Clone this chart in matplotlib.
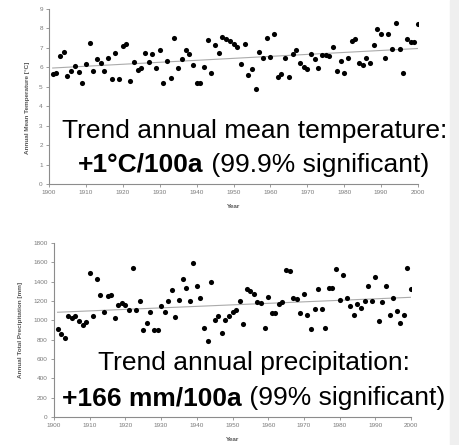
import numpy as np
import matplotlib
matplotlib.use("Agg")
import matplotlib.pyplot as plt
from matplotlib.patches import Rectangle

plt.rcParams['font.family'] = ['Liberation Sans', 'DejaVu Sans']

# annual mean temperature [°C], 1901-2000
temp_years = np.arange(1901, 2001)
temp_values = [
    5.64, 5.69, 6.59, 6.81, 5.56, 5.81, 6.07, 5.78, 5.18, 6.16,
    7.24, 5.83, 6.43, 6.21, 5.81, 6.50, 5.39, 6.72, 5.39, 7.10,
    7.19, 5.30, 6.30, 5.85, 5.97, 6.76, 6.28, 6.71, 5.99, 6.91,
    5.21, 6.35, 5.45, 7.51, 5.95, 6.43, 6.90, 6.67, 6.12, 5.20,
    5.20, 6.04, 7.39, 5.69, 7.14, 6.76, 7.55, 7.44, 7.37, 7.18,
    7.03, 6.17, 7.18, 5.61, 5.90, 4.89, 6.81, 6.46, 7.49, 6.55,
    7.70, 5.52, 5.66, 6.50, 5.49, 6.69, 6.89, 6.21, 6.00, 5.92,
    6.69, 6.41, 5.95, 6.64, 6.64, 6.60, 7.03, 5.83, 6.34, 5.69,
    6.50, 7.36, 7.46, 6.24, 6.12, 6.46, 6.24, 7.15, 7.97, 7.72,
    6.46, 7.72, 6.94, 8.26, 6.93, 5.69, 7.46, 7.29, 7.29, 8.23,
]

# annual total precipitation [mm], 1901-2000
prec_years = np.arange(1901, 2001)
prec_values = [
    910, 862, 821, 1041, 1028, 1041, 993, 948, 983, 1490,
    1045, 1431, 1259, 1083, 1255, 1259, 1028, 1155, 1183, 1155,
    1103, 1545, 1103, 1200, 903, 972, 1086, 903, 896, 1148,
    1083, 1196, 1310, 1034, 1207, 1431, 1338, 1196, 1593, 1355,
    1234, 924, 786, 1396, 1000, 1041, 872, 1007, 1041, 1086,
    1110, 1196, 965, 1327, 1303, 1276, 1190, 1179, 921, 1241,
    1076, 1076, 1165, 1190, 1517, 1510, 1234, 1224, 1076, 1269,
    1052, 914, 1121, 1320, 1121, 924, 1338, 1338, 1534, 1214,
    1465, 1231, 1145, 1052, 1172, 1131, 1200, 1355, 1200, 1448,
    990, 1190, 1355, 1052, 1231, 1096, 972, 1052, 1545, 1327,
]

temp_text = ["Trend annual mean temperature:", "+1°C/100a", " (99.9% significant)"]
prec_text = ["Trend annual precipitation:", "+166 mm/100a", " (99% significant)"]

W, H = 459, 445
fig = plt.figure(figsize=(W / 100, H / 100), dpi=100)
# light grey strip on the right edge
fig.patches.append(Rectangle((450 / W, 0), 9 / W, 1, transform=fig.transFigure,
                             color='#efefef', zorder=0))

axis_grey = '#8c8c8c'
label_grey = '#7a7a7a'


def px(x0, y0, x1, y1):
    # pixel box (left, top, right, bottom) -> figure fraction rect
    return [x0 / W, 1 - y1 / H, (x1 - x0) / W, (y1 - y0) / H]


def setup(ax, years, values, ymax, ystep, ylabel, ylab_x, ylab_y):
    ax.plot(years, values, 'o', color='black', ms=3.7, mew=0, zorder=3)
    k, b = np.polyfit(years, values, 1)
    ax.plot([years[0], years[-1]], [k * years[0] + b, k * years[-1] + b],
            color='#ababab', lw=0.8, zorder=2)
    ax.set_xlim(1900, 2000)
    ax.set_ylim(0, ymax)
    ax.set_xticks(np.arange(1900, 2001, 10))
    ax.set_yticks(np.arange(0, ymax + 1, ystep))
    for s in ('top', 'right'):
        ax.spines[s].set_visible(False)
    for s in ('left', 'bottom'):
        ax.spines[s].set_color(axis_grey)
        ax.spines[s].set_linewidth(0.8)
    ax.tick_params(length=2, width=0.6, color=axis_grey, labelsize=4.6,
                   labelcolor=label_grey, pad=2.5)
    ax.set_ylabel(ylabel, fontsize=4.6, fontweight='bold', color='#555555')
    ax.yaxis.set_label_coords(ylab_x, ylab_y)
    ax.set_xlabel('Year', fontsize=4.6, fontweight='bold', color='#555555')
    ax.xaxis.set_label_coords(0.5, -0.115)
    ax.patch.set_alpha(0)


ax1 = fig.add_axes(px(49, 9, 418, 184))
setup(ax1, temp_years, temp_values, 9, 1, 'Annual Mean Temperature [°C]',
      -0.052, 0.434)

ax2 = fig.add_axes(px(54, 243, 411, 417))
setup(ax2, prec_years, prec_values, 1800, 200, 'Annual Total Precipitation [mm]',
      -0.088, 0.5)


def trend_text(lines, cx, y1, x2, y2, size=19):
    fig.text(cx / W, 1 - y1 / H, lines[0], fontsize=size, ha='center',
             va='baseline', color='black')
    t = fig.text(x2 / W, 1 - y2 / H, lines[1], fontsize=size, fontweight='bold',
                 ha='left', va='baseline', color='black')
    # normal-weight remainder placed right after the bold part
    fig.add_artist(plt.Annotation(lines[2], xy=(1, 0), xycoords=t, ha='left',
                                  va='bottom', fontsize=size, color='black'))


trend_text(temp_text, 255, 138, 78, 172)
trend_text(prec_text, 254, 370, 62, 405)

fig.savefig('out.png', dpi=100)
